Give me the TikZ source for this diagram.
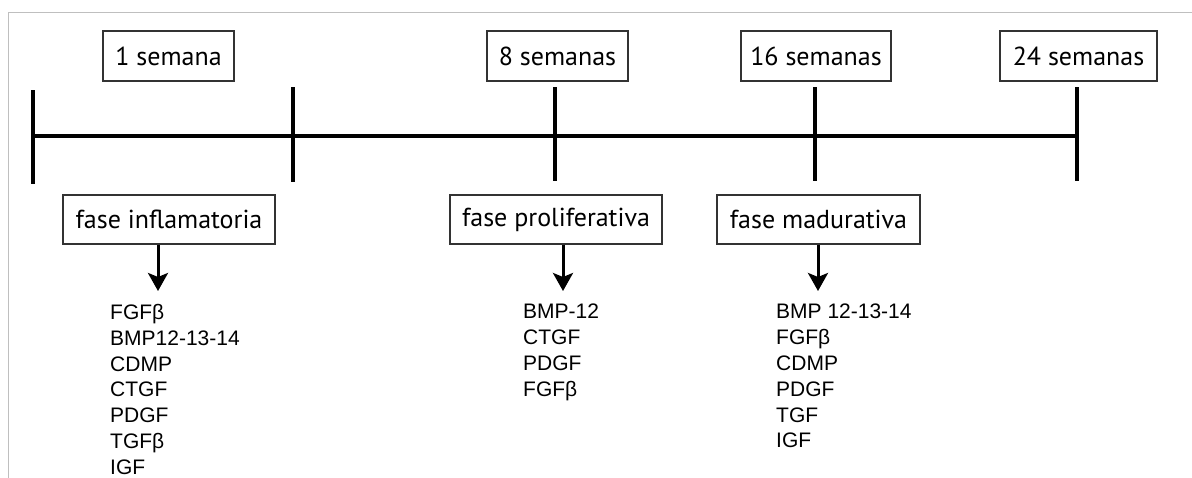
\documentclass[tikz,border=0pt]{standalone}
\usepackage{fontspec}
\setmainfont{PT Sans}
\newfontfamily\listfont{Liberation Sans}
\usetikzlibrary{arrows.meta}
\tikzset{
  weekbox/.style={draw=black!80, line width=1.3pt, inner sep=0pt, minimum height=50pt, font=\fontsize{26}{30}\selectfont},
  phasebox/.style={draw=black!80, line width=1.3pt, inner sep=0pt, minimum height=49pt, font=\fontsize{26}{30}\selectfont},
  tick/.style={line width=4pt},
  axis/.style={line width=3.6pt},
  down/.style={line width=3pt, -{Stealth[length=18pt,width=20pt,inset=4pt]}},
  factors/.style={anchor=north west, inner sep=0pt, align=left, font=\listfont\fontsize{21}{25.8}\selectfont},
  frame/.style={draw=black!25, line width=1pt}
}
\begin{document}
\begin{tikzpicture}[x=1pt,y=-1pt]
\useasboundingbox (0,0) rectangle (1192,478);
\draw[frame] (8,478) -- (8,13) -- (1192,13);
% week boxes
\node[weekbox, minimum width=131pt] (w1) at (168.5,56) {1 semana};
\node[weekbox, minimum width=141pt] (w8) at (557.5,56) {8 semanas};
\node[weekbox, minimum width=150pt] (w16) at (816,56) {16 semanas};
\node[weekbox, minimum width=157pt] (w24) at (1078.5,56) {24 semanas};
% timeline
\coordinate (t0) at (33,136);
\coordinate (t1) at (293,136);
\coordinate (t2) at (555,136);
\coordinate (t3) at (815,136);
\coordinate (t4) at (1077,136);
\draw[axis] (t0) -- (t4);
\draw[tick] ([yshift=-48pt]t0) -- ([yshift=46pt]t0);
\draw[tick] ([yshift=-46pt]t1) -- ([yshift=49pt]t1);
\draw[tick] ([yshift=-45pt]t2) -- ([yshift=49pt]t2);
\draw[tick] ([yshift=-45pt]t3) -- ([yshift=49pt]t3);
\draw[tick] ([yshift=-45pt]t4) -- ([yshift=49pt]t4);
% phase boxes
\node[phasebox, minimum width=212pt] (infl) at (169,219.5) {fase inflamatoria};
\node[phasebox, minimum width=212pt] (prol) at (556,219.5) {fase proliferativa};
\node[phasebox, minimum width=203pt] (mad) at (818.5,219.5) {fase madurativa};
% arrows
\coordinate (a1) at (158,291);
\coordinate (a2) at (563,291);
\coordinate (a3) at (818,291);
\draw[down] (infl.south -| a1) -- (a1);
\draw[down] (prol.south -| a2) -- (a2);
\draw[down] (mad.south -| a3) -- (a3);
% factor lists
\node[factors] (l1) at (110,304) {FGFβ\\BMP12-13-14\\CDMP\\CTGF\\PDGF\\TGFβ\\IGF};
\node[factors] (l2) at (523,304) {BMP-12\\CTGF\\PDGF\\FGFβ};
\node[factors] (l3) at (776,304) {BMP 12-13-14\\FGFβ\\CDMP\\PDGF\\TGF\\IGF};
\end{tikzpicture}
\end{document}
